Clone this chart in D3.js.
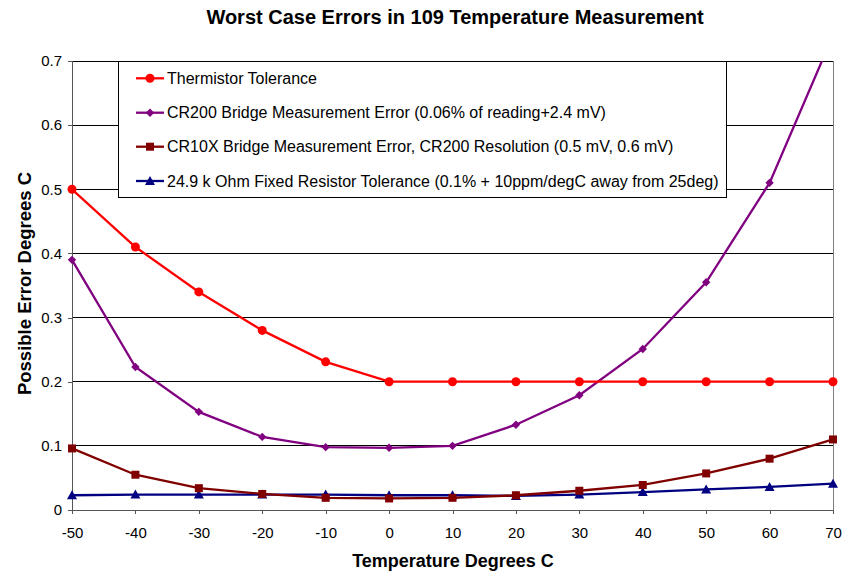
<!DOCTYPE html>
<html><head><meta charset="utf-8">
<script src="https://cdn.jsdelivr.net/npm/d3@7"></script>
<style>body{margin:0;background:#fff}svg{display:block;font-family:Arial,"Liberation Sans",sans-serif}</style>
</head><body><svg id="c" width="856" height="577"></svg>
<script>
const temps = [-50,-40,-30,-20,-10,0,10,20,30,40,50,60,70];
const thermistor = [0.5,0.41,0.34,0.28,0.231,0.2,0.2,0.2,0.2,0.2,0.2,0.2,0.2];
const cr200 = [0.39,0.223,0.153,0.114,0.098,0.097,0.1,0.133,0.179,0.251,0.355,0.51,0.74];
const cr10x = [0.096,0.055,0.034,0.025,0.019,0.018,0.019,0.023,0.03,0.039,0.057,0.08,0.11];
const resistor = [0.023,0.024,0.024,0.024,0.024,0.023,0.023,0.022,0.024,0.028,0.032,0.036,0.041];
const seriesNames = ["Thermistor Tolerance","CR200 Bridge Measurement Error (0.06% of reading+2.4 mV)","CR10X Bridge Measurement Error, CR200 Resolution (0.5 mV, 0.6 mV)","24.9 k Ohm Fixed Resistor Tolerance (0.1% + 10ppm/degC away from 25deg)"];
const seriesColors = ["#ff0000","#800080","#800000","#000080"];
const seriesMarkers = ["circle","diamond","square","triangle"];
const xTicks = [-50,-40,-30,-20,-10,0,10,20,30,40,50,60,70];
const yTicks = [0,0.1,0.2,0.3,0.4,0.5,0.6,0.7];
const title = "Worst Case Errors in 109 Temperature Measurement";
const xTitle = "Temperature Degrees C";
const yTitle = "Possible Error Degrees C";

const allValues = [thermistor, cr200, cr10x, resistor];
const svg = d3.select("#c");
const L=72,R=833,T=61,B=510;
const x = d3.scaleLinear().domain([-50,70]).range([L,R]);
const y = d3.scaleLinear().domain([0,0.7]).range([B,T]);

svg.append("text").attr("x",455).attr("y",24).attr("text-anchor","middle").attr("font-weight","bold").attr("font-size","20px").text(title);

svg.append("g").selectAll("line").data(yTicks.filter(d=>d>0)).join("line")
  .attr("x1",L).attr("x2",R).attr("y1",d=>y(d)).attr("y2",d=>y(d)).attr("stroke","#000").attr("stroke-width",1).attr("shape-rendering","crispEdges");
svg.append("line").attr("x1",R).attr("x2",R).attr("y1",T).attr("y2",B).attr("stroke","#808080").attr("shape-rendering","crispEdges");

const yAxis = svg.append("g").attr("transform",`translate(${L},0)`).call(d3.axisLeft(y).tickValues(yTicks).tickSize(4).tickPadding(6).tickFormat(d=>d===0?"0":d3.format(".1f")(d)));
const xAxis = svg.append("g").attr("transform",`translate(0,${B})`).call(d3.axisBottom(x).tickValues(xTicks).tickSize(4).tickPadding(13).tickFormat(d=>String(d)));
[yAxis,xAxis].forEach(a=>{a.selectAll("path,line").attr("stroke","#555").attr("shape-rendering","crispEdges");a.selectAll("text").attr("font-size","15px").attr("fill","#000").attr("font-family","Arial,'Liberation Sans',sans-serif");});
yAxis.select("path").attr("d",`M0,${B}V${T}`);
xAxis.select("path").attr("d",`M${L},0H${R}`);

svg.append("text").attr("x",453).attr("y",567).attr("text-anchor","middle").attr("font-weight","bold").attr("font-size","18px").text(xTitle);
svg.append("text").attr("transform",`translate(31,283.5) rotate(-90)`).attr("text-anchor","middle").attr("font-weight","bold").attr("font-size","18.5px").text(yTitle);

svg.append("defs").append("clipPath").attr("id","clip").append("rect").attr("x",L-6).attr("y",T).attr("width",R-L+12).attr("height",B-T+6);

function marker(g,type,color,cx,cy){
  if(type==="circle") g.append("circle").attr("cx",cx).attr("cy",cy).attr("r",4.5).attr("fill",color);
  else if(type==="diamond") g.append("path").attr("d",`M${cx},${cy-4.2}L${cx+4.2},${cy}L${cx},${cy+4.2}L${cx-4.2},${cy}Z`).attr("fill",color);
  else if(type==="square") g.append("rect").attr("x",cx-4).attr("y",cy-4).attr("width",8).attr("height",8).attr("fill",color);
  else g.append("path").attr("d",`M${cx},${cy-5}L${cx+5},${cy+4}L${cx-5},${cy+4}Z`).attr("fill",color);
}
const line = d3.line().x((d,i)=>x(temps[i])).y(d=>y(d));
const plot = svg.append("g").attr("clip-path","url(#clip)");
[3,2,1,0].forEach(k=>{
  const g = plot.append("g");
  g.append("path").attr("d",line(allValues[k])).attr("fill","none").attr("stroke",seriesColors[k]).attr("stroke-width",2.3);
  allValues[k].forEach((v,i)=>{ if(v<=0.7) marker(g,seriesMarkers[k],seriesColors[k],x(temps[i]),y(v)); });
});

const lg = svg.append("g");
lg.append("rect").attr("x",118.5).attr("y",61.5).attr("width",608).attr("height",136).attr("fill","#fff").attr("stroke","#000");
const legendY = [78.3,112.7,146.7,181];
seriesNames.forEach((n,i)=>{
  const ly = legendY[i];
  lg.append("line").attr("x1",136).attr("x2",164).attr("y1",ly).attr("y2",ly).attr("stroke",seriesColors[i]).attr("stroke-width",2.3);
  marker(lg,seriesMarkers[i],seriesColors[i],150,ly);
  lg.append("text").attr("x",167).attr("y",ly+5.6).attr("font-size","16px").text(n);
});
</script></body></html>
